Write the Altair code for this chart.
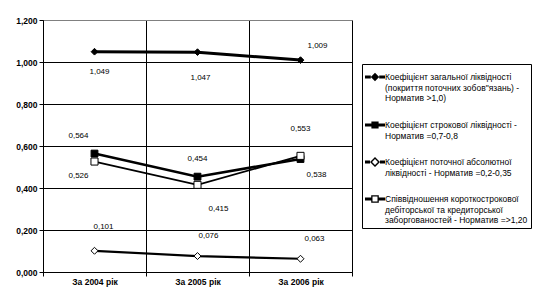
import altair as alt
import pandas as pd

# ---------------- data ----------------
categories = ["За 2004 рік", "За 2005 рік", "За 2006 рік"]

series_names = [
    "Коефіцієнт загальної ліквідності\n(покриття поточних зобов\"язань) -\nНорматив >1,0)",
    "Коефіцієнт строкової ліквідності -\nНорматив =0,7-0,8",
    "Коефіцієнт поточної абсолютної\nліквідності - Норматив =0,2-0,35",
    "Співвідношення короткострокової\nдебіторської та кредиторської\nзаборгованостей - Норматив =>1,20",
]

s_general = [1.049, 1.047, 1.009]
s_term = [0.564, 0.454, 0.538]
s_absolute = [0.101, 0.076, 0.063]
s_receivable = [0.526, 0.415, 0.553]

y_ticks = [0.0, 0.2, 0.4, 0.6, 0.8, 1.0, 1.2]

# ---------------- styling ----------------
# label offsets in px, per series / category
label_offsets = [
    [(5, 20), (3, 26), (17, -14)],
    [(-16, -18), (0, -18), (16, 16)],
    [(9, -24), (11, -20), (14, -20)],
    [(-16, 14), (21, 24), (0, -27)],
]
line_widths = [3, 1.8, 4.5, 1.5]
marker_shapes = ["diamond", "square", "diamond", "square"]
marker_sizes = [45, 50, 70, 55]
marker_fills = ["black", "black", "white", "white"]

FONT = "Liberation Sans"
LEG_FS = 8.5


def _poly(pts):
    return "M" + "L".join(f"{x},{y}" for x, y in pts) + "Z"


def legend_path(kind, half, inner=None, t=0.14):
    # unit = 10px (symbol size 400); filled bars either side of a marker,
    # open markers are rings (inner outline wound the other way)
    parts = [
        _poly([(-1, -t), (-half, -t), (-half, t), (-1, t)]),
        _poly([(half, -t), (1, -t), (1, t), (half, t)]),
    ]
    if kind == "diamond":
        parts.append(_poly([(0, -half), (half, 0), (0, half), (-half, 0)]))
        if inner:
            parts.append(_poly([(0, -inner), (-inner, 0), (0, inner), (inner, 0)]))
    else:
        parts.append(_poly([(-half, -half), (half, -half), (half, half), (-half, half)]))
        if inner:
            parts.append(_poly([(-inner, -inner), (-inner, inner), (inner, inner), (inner, -inner)]))
    return "".join(parts)


legend_paths = [
    legend_path("diamond", 0.42),
    legend_path("square", 0.36),
    legend_path("diamond", 0.5, inner=0.3),
    legend_path("square", 0.38, inner=0.25),
]

rows = []
for si, (name, vals) in enumerate(zip(series_names, [s_general, s_term, s_absolute, s_receivable])):
    for ci, (cat, v) in enumerate(zip(categories, vals)):
        dx, dy = label_offsets[si][ci]
        rows.append({"cat": cat, "series": name, "value": v, "dx": dx, "dy": dy})
df = pd.DataFrame(rows)

x_enc = alt.X(
    "cat:N",
    sort=categories,
    scale=alt.Scale(paddingInner=0, paddingOuter=0),
    axis=alt.Axis(
        title=None, tickBand="extent", grid=True, gridColor="black", gridOpacity=1, gridWidth=1,
        domainColor="black", tickColor="black", tickSize=4, labelAngle=0,
        labelFont=FONT, labelFontWeight="bold", labelFontSize=8.5, labelColor="black",
        labelPadding=1,
    ),
)
y_enc = alt.Y(
    "value:Q",
    scale=alt.Scale(domain=[0, 1.2], nice=False, zero=True),
    axis=alt.Axis(
        title=None, values=y_ticks, grid=True, gridOpacity=1,
        gridColor={"condition": {"test": "datum.value >= 1.2", "value": "#808080"}, "value": "black"},
        labelExpr="replace(format(datum.value, '.3f'), '.', ',')",
        domainColor="black", tickColor="black", tickSize=4,
        labelFont=FONT, labelFontWeight="bold", labelFontSize=8.5, labelColor="black",
        labelPadding=2,
    ),
)

base = alt.Chart(df)

lines = base.mark_line(color="black").encode(
    x=x_enc, y=y_enc,
    detail="series:N",
    strokeWidth=alt.StrokeWidth("series:N", scale=alt.Scale(domain=series_names, range=line_widths), legend=None),
)

points = base.mark_point(opacity=1, stroke="black", strokeWidth=1).encode(
    x=x_enc, y=y_enc,
    shape=alt.Shape("series:N", scale=alt.Scale(domain=series_names, range=marker_shapes), legend=None),
    fill=alt.Fill("series:N", scale=alt.Scale(domain=series_names, range=marker_fills), legend=None),
    size=alt.Size("series:N", scale=alt.Scale(domain=series_names, range=marker_sizes), legend=None),
)

labels = base.transform_calculate(
    label="replace(format(datum.value, '.3f'), '.', ',')"
).mark_text(
    font=FONT, fontSize=8, color="black",
    dx=alt.ExprRef("datum.dx"), dy=alt.ExprRef("datum.dy"),
).encode(
    x=x_enc, y=y_enc,
    text="label:N",
)

legend_layer = base.transform_filter("false").mark_point(
    filled=True, color="black", opacity=1, strokeWidth=0, size=400
).encode(
    x=x_enc, y=y_enc,
    shape=alt.Shape(
        "series:N",
        scale=alt.Scale(domain=series_names, range=legend_paths),
        legend=alt.Legend(
            title=None, orient="none", legendX=319, legendY=44,
            strokeColor="black", fillColor="white", padding=3,
            labelFont=FONT, labelFontSize=LEG_FS, labelColor="black", labelLimit=400,
            labelExpr="split(datum.label, '\\n')", labelBaseline="middle", labelOffset=0,
            symbolSize=400, symbolFillColor="black", symbolStrokeWidth=0, rowPadding=12,
        ),
    ),
)

chart = alt.layer(lines, points, labels, legend_layer).resolve_scale(
    shape="independent", fill="independent", size="independent"
).properties(
    width=309, height=252,
    autosize=alt.AutoSizeParams(type="none"),
    padding={"left": 43, "top": 20, "right": 194, "bottom": 36},
    background="white",
).configure_view(stroke="#808080", strokeWidth=1)

chart.save("out.html", embed_options={"renderer": "svg", "actions": False})
